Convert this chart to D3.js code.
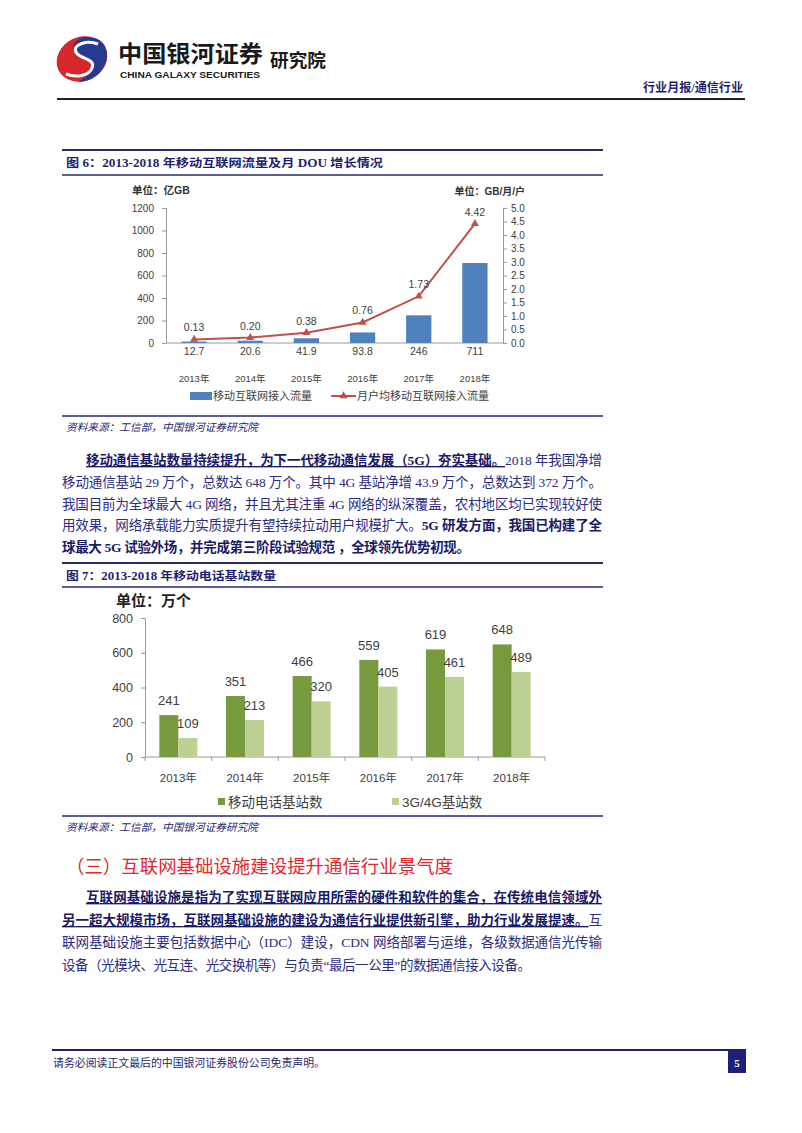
<!DOCTYPE html>
<html><head><meta charset="utf-8">
<script src="https://cdn.jsdelivr.net/npm/d3@7"></script>
<style>
html,body{margin:0;padding:0;background:#fff;}
svg{display:block;}
</style></head><body>
<svg id="page" width="802" height="1133"></svg>
<script>
// ---------- data ----------
const years = ["2013年","2014年","2015年","2016年","2017年","2018年"];
const trafficValues = [12.7,20.6,41.9,93.8,246,711];
const trafficLabels = ["12.7","20.6","41.9","93.8","246","711"];
const douValues = [0.13,0.20,0.38,0.76,1.73,4.42];
const douLabels = ["0.13","0.20","0.38","0.76","1.73","4.42"];
const leftTicks1 = [0,200,400,600,800,1000,1200];
const rightTicks1 = [0,0.5,1.0,1.5,2.0,2.5,3.0,3.5,4.0,4.5,5.0];
const stationsAll = [241,351,466,559,619,648];
const stations34 = [109,213,320,405,461,489];
const ticks2 = [0,200,400,600,800];
const seriesNames1 = ["移动互联网接入流量","月户均移动互联网接入流量"];
const seriesNames2 = ["移动电话基站数","3G/4G基站数"];

// ---------- styles ----------
const NAVY = "#1f1f6e";
const TXT = "#404040";
const SANS = "'Liberation Sans', Arial, 'Noto Sans CJK SC', sans-serif";
const SERIF = "'Liberation Serif', 'Noto Sans CJK SC', serif";
const svg = d3.select("#page");

function txt(g, x, y, s, o) {
  o = o || {};
  const t = g.append("text").attr("x", x).attr("y", y).text(s)
    .attr("font-family", o.ff || SANS).attr("font-size", o.fs || 12)
    .attr("fill", o.fill || TXT);
  if (o.fw) t.attr("font-weight", o.fw);
  if (o.anchor) t.attr("text-anchor", o.anchor);
  if (o.italic) t.attr("font-style", "italic");
  if (o.len) t.attr("textLength", o.len).attr("lengthAdjust", "spacingAndGlyphs");
  return t;
}

// ---------- header ----------
const hdr = svg.append("g");
hdr.append("ellipse").attr("cx", 82).attr("cy", 59).attr("rx", 26).attr("ry", 22)
  .attr("transform", "rotate(-25 82 59)").attr("fill", "#d8262d");
hdr.append("path").attr("d", "M86 37 C108 36 114 58 98 74 C92 80 84 82 78 82 C92 74 96 64 88 58 C80 53 70 52 74 44 C77 39 81 37 86 37 Z")
  .attr("fill", "#263a8e");
hdr.append("path").attr("d", "M98 44 C88 40 72 44 76 52 C80 60 96 58 92 68 C89 76 76 78 66 74")
  .attr("fill", "none").attr("stroke", "#fff").attr("stroke-width", 3);
txt(hdr, 118, 62, "中国银河证券", {fs: 23, fw: "bold", fill: "#1a1a1a", ff: "'Noto Sans CJK SC', sans-serif", len: 145});
txt(hdr, 120, 78, "CHINA GALAXY SECURITIES", {fs: 9.5, fw: "bold", fill: "#1a1a1a", len: 140});
txt(hdr, 270, 67, "研究院", {fs: 18, fw: "bold", fill: "#1a1a1a", ff: "'Noto Sans CJK SC', sans-serif", len: 56});
txt(hdr, 643, 92, "行业月报/通信行业", {fs: 12, fw: "bold", fill: NAVY, ff: SERIF, len: 100});
hdr.append("line").attr("x1", 57).attr("x2", 745).attr("y1", 99).attr("y2", 99).attr("stroke", "#222").attr("stroke-width", 2);

// ---------- figure title bars ----------
function titleBar(y1, y2, s, len) {
  svg.append("line").attr("x1", 62).attr("x2", 603).attr("y1", y1).attr("y2", y1).attr("stroke", "#2a2a6a").attr("stroke-width", 2);
  svg.append("line").attr("x1", 62).attr("x2", 603).attr("y1", y2).attr("y2", y2).attr("stroke", "#2a2a6a").attr("stroke-width", 1.5);
  txt(svg, 66, (y1 + y2) / 2 + 4.5, s, {fs: 11.5, fw: "bold", fill: NAVY, ff: SERIF, len: len});
}
function source(yLine, yText) {
  if (yLine) svg.append("line").attr("x1", 62).attr("x2", 603).attr("y1", yLine).attr("y2", yLine).attr("stroke", "#2a2a6a").attr("stroke-width", 1.5);
  txt(svg, 66, yText, "资料来源：工信部，中国银河证券研究院", {fs: 10.5, fill: NAVY, ff: SERIF, italic: true, len: 192});
}
titleBar(150, 175, "图 6：2013-2018 年移动互联网流量及月 DOU 增长情况", 317);
source(416, 431);
titleBar(563, 587, "图 7：2013-2018 年移动电话基站数量", 210);
svg.append("line").attr("x1", 62).attr("x2", 603).attr("y1", 816).attr("y2", 816).attr("stroke", "#2a2a6a").attr("stroke-width", 1.5);
source(null, 831);

// ---------- chart 1 ----------
const c1 = svg.append("g");
const x1 = d3.scaleBand().domain(years).range([166, 503]).paddingInner(0.55).paddingOuter(0.275);
const yL = d3.scaleLinear().domain([0, 1200]).range([343, 208]);
const yR = d3.scaleLinear().domain([0, 5]).range([343, 208]);
const bw1 = x1.bandwidth();

function styleAxis(g, fs) {
  g.selectAll("path.domain").attr("stroke", "#9a9a9a");
  g.selectAll(".tick line").attr("stroke", "#9a9a9a");
  g.selectAll(".tick text").attr("fill", TXT).attr("font-size", fs).attr("font-family", SANS);
}
c1.append("g").attr("transform", "translate(166,0)")
  .call(d3.axisLeft(yL).tickValues(leftTicks1).tickSize(4).tickSizeOuter(4).tickPadding(8).tickFormat(d3.format("d")))
  .call(g => styleAxis(g, 10));
c1.append("g").attr("transform", "translate(503,0)")
  .call(d3.axisRight(yR).tickValues(rightTicks1).tickSize(4).tickSizeOuter(4).tickPadding(4).tickFormat(d3.format(".1f")))
  .call(g => styleAxis(g, 10));
c1.append("line").attr("x1", 166).attr("x2", 503).attr("y1", 343).attr("y2", 343).attr("stroke", "#9a9a9a");

c1.selectAll("rect.bar").data(trafficValues).join("rect").attr("class", "bar")
  .attr("x", (d, i) => x1(years[i])).attr("width", bw1)
  .attr("y", d => yL(d)).attr("height", d => yL(0) - yL(d)).attr("fill", "#4f81bd");
c1.selectAll("text.blab").data(trafficLabels).join("text").attr("class", "blab")
  .attr("x", (d, i) => x1(years[i]) + bw1 / 2).attr("y", 355).attr("text-anchor", "middle")
  .attr("font-size", 10.5).attr("font-family", SANS).attr("fill", TXT).text(d => d);
c1.selectAll("text.year").data(years).join("text").attr("class", "year")
  .attr("x", d => x1(d) + bw1 / 2).attr("y", 382).attr("text-anchor", "middle")
  .attr("font-size", 9.5).attr("font-family", SANS).attr("fill", TXT).text(d => d);

const RED = "#c0504d";
const line1 = d3.line().x((d, i) => x1(years[i]) + bw1 / 2).y(d => yR(d));
c1.append("path").attr("d", line1(douValues)).attr("fill", "none").attr("stroke", RED).attr("stroke-width", 2);
const tri = d3.symbol(d3.symbolTriangle, 28);
c1.selectAll("path.mk").data(douValues).join("path").attr("class", "mk")
  .attr("transform", (d, i) => `translate(${x1(years[i]) + bw1 / 2},${yR(d)})`)
  .attr("d", tri).attr("fill", RED);
c1.selectAll("text.llab").data(douLabels).join("text").attr("class", "llab")
  .attr("x", (d, i) => x1(years[i]) + bw1 / 2).attr("y", (d, i) => yR(douValues[i]) - 8)
  .attr("text-anchor", "middle").attr("font-size", 10.5).attr("font-family", SANS).attr("fill", TXT).text(d => d);

txt(c1, 132, 194, "单位：亿GB", {fs: 10.5, fw: "bold", fill: "#333"});
txt(c1, 525, 195, "单位：GB/月/户", {fs: 10, fw: "bold", fill: "#333", anchor: "end"});

// legend 1
c1.append("rect").attr("x", 190).attr("y", 392).attr("width", 22).attr("height", 8).attr("fill", "#4f81bd");
txt(c1, 213, 400, seriesNames1[0], {fs: 11, fill: TXT});
c1.append("line").attr("x1", 331).attr("x2", 356).attr("y1", 396).attr("y2", 396).attr("stroke", RED).attr("stroke-width", 2);
c1.append("path").attr("transform", "translate(343.5,396)").attr("d", tri).attr("fill", RED);
txt(c1, 357, 400, seriesNames1[1], {fs: 11, fill: TXT});

// ---------- chart 2 ----------
const c2 = svg.append("g");
const x2 = d3.scaleBand().domain(years).range([145, 545]).paddingInner(0.43).paddingOuter(0.215);
const xs = d3.scaleBand().domain([0, 1]).range([0, x2.bandwidth()]);
const y2 = d3.scaleLinear().domain([0, 800]).range([757, 618]);
const DARK = "#789a3e", LIGHT = "#bdd094";

c2.append("g").attr("transform", "translate(145,0)")
  .call(d3.axisLeft(y2).tickValues(ticks2).tickSize(4).tickSizeOuter(4).tickPadding(8))
  .call(g => styleAxis(g, 12.5));
c2.append("line").attr("x1", 145).attr("x2", 545).attr("y1", 757).attr("y2", 757).attr("stroke", "#9a9a9a");
c2.selectAll("line.bt").data(d3.range(years.length + 1)).join("line").attr("class", "bt")
  .attr("x1", i => x2.range()[0] + i * x2.step()).attr("x2", i => x2.range()[0] + i * x2.step())
  .attr("y1", 757).attr("y2", 761).attr("stroke", "#9a9a9a");

const groups = [stationsAll, stations34];
const cols = [DARK, LIGHT];
groups.forEach((arr, k) => {
  c2.selectAll("rect.s" + k).data(arr).join("rect").attr("class", "s" + k)
    .attr("x", (d, i) => x2(years[i]) + xs(k)).attr("width", xs.bandwidth())
    .attr("y", d => y2(d)).attr("height", d => y2(0) - y2(d)).attr("fill", cols[k]);
  c2.selectAll("text.v" + k).data(arr).join("text").attr("class", "v" + k)
    .attr("x", (d, i) => x2(years[i]) + xs(k) + xs.bandwidth() / 2).attr("y", d => y2(d) - 10)
    .attr("text-anchor", "middle").attr("font-size", 13).attr("font-family", SANS).attr("fill", TXT).text(d => d);
});
c2.selectAll("text.year").data(years).join("text").attr("class", "year")
  .attr("x", d => x2(d) + x2.bandwidth() / 2).attr("y", 782).attr("text-anchor", "middle")
  .attr("font-size", 11.5).attr("font-family", SANS).attr("fill", TXT).text(d => d);
txt(c2, 116, 606, "单位：万个", {fs: 15, fw: "bold", fill: "#222", ff: "'Noto Sans CJK SC', sans-serif"});

c2.append("rect").attr("x", 218).attr("y", 798).attr("width", 7).attr("height", 7).attr("fill", DARK);
txt(c2, 228, 807, seriesNames2[0], {fs: 13.5, fill: TXT});
c2.append("rect").attr("x", 392).attr("y", 798).attr("width", 7).attr("height", 7).attr("fill", LIGHT);
txt(c2, 402, 807, seriesNames2[1], {fs: 13.5, fill: TXT});

// ---------- body text ----------
const BODY = "#2c2c80", BOLD = "#1a1a66";
function para(lines) {
  lines.forEach(L => {
    const t = svg.append("text").attr("x", L.x).attr("y", L.y)
      .attr("font-family", SERIF).attr("font-size", 13.5);
    if (L.len) t.attr("textLength", L.len).attr("lengthAdjust", "spacing");
    L.runs.forEach(r => {
      const s = t.append("tspan").text(r.t).attr("fill", r.b ? BOLD : BODY);
      if (r.b) s.attr("font-weight", "bold");
      if (r.u) s.style("text-decoration", "underline");
    });
  });
}
para([
  {x: 86, y: 465, len: 516, runs: [{t: "移动通信基站数量持续提升，为下一代移动通信发展（5G）夯实基础。", b: 1, u: 1}, {t: "2018 年我国净增"}]},
  {x: 62, y: 487, len: 540, runs: [{t: "移动通信基站 29 万个，总数达 648 万个。其中 4G 基站净增 43.9 万个，总数达到 372 万个。"}]},
  {x: 62, y: 509, len: 540, runs: [{t: "我国目前为全球最大 4G 网络，并且尤其注重 4G 网络的纵深覆盖，农村地区均已实现较好使"}]},
  {x: 62, y: 530, len: 540, runs: [{t: "用效果，网络承载能力实质提升有望持续拉动用户规模扩大。"}, {t: "5G 研发方面，我国已构建了全", b: 1}]},
  {x: 62, y: 552, len: 408, runs: [{t: "球最大 5G 试验外场，并完成第三阶段试验规范 ，全球领先优势初现。", b: 1}]}
]);
txt(svg, 66, 873, "（三）互联网基础设施建设提升通信行业景气度", {fs: 18.5, fill: "#dc2a2e", ff: SERIF, len: 387});
para([
  {x: 86, y: 902, len: 516, runs: [{t: "互联网基础设施是指为了实现互联网应用所需的硬件和软件的集合，在传统电信领域外", b: 1, u: 1}]},
  {x: 62, y: 925, len: 540, runs: [{t: "另一超大规模市场，互联网基础设施的建设为通信行业提供新引擎，助力行业发展提速。", b: 1, u: 1}, {t: "互"}]},
  {x: 62, y: 947, len: 540, runs: [{t: "联网基础设施主要包括数据中心（IDC）建设，CDN 网络部署与运维，各级数据通信光传输"}]},
  {x: 62, y: 970, len: 469, runs: [{t: "设备（光模块、光互连、光交换机等）与负责“最后一公里”的数据通信接入设备。"}]}
]);

// ---------- footer ----------
svg.append("line").attr("x1", 52).attr("x2", 746).attr("y1", 1050).attr("y2", 1050).attr("stroke", NAVY).attr("stroke-width", 2);
txt(svg, 53, 1067, "请务必阅读正文最后的中国银河证券股份公司免责声明。", {fs: 11, fill: NAVY, ff: SERIF, len: 272});
svg.append("rect").attr("x", 728).attr("y", 1051).attr("width", 18).attr("height", 22).attr("fill", "#1f1f7a");
txt(svg, 737, 1067, "5", {fs: 11, fw: "bold", fill: "#fff", ff: SERIF, anchor: "middle"});
</script>
</body></html>
